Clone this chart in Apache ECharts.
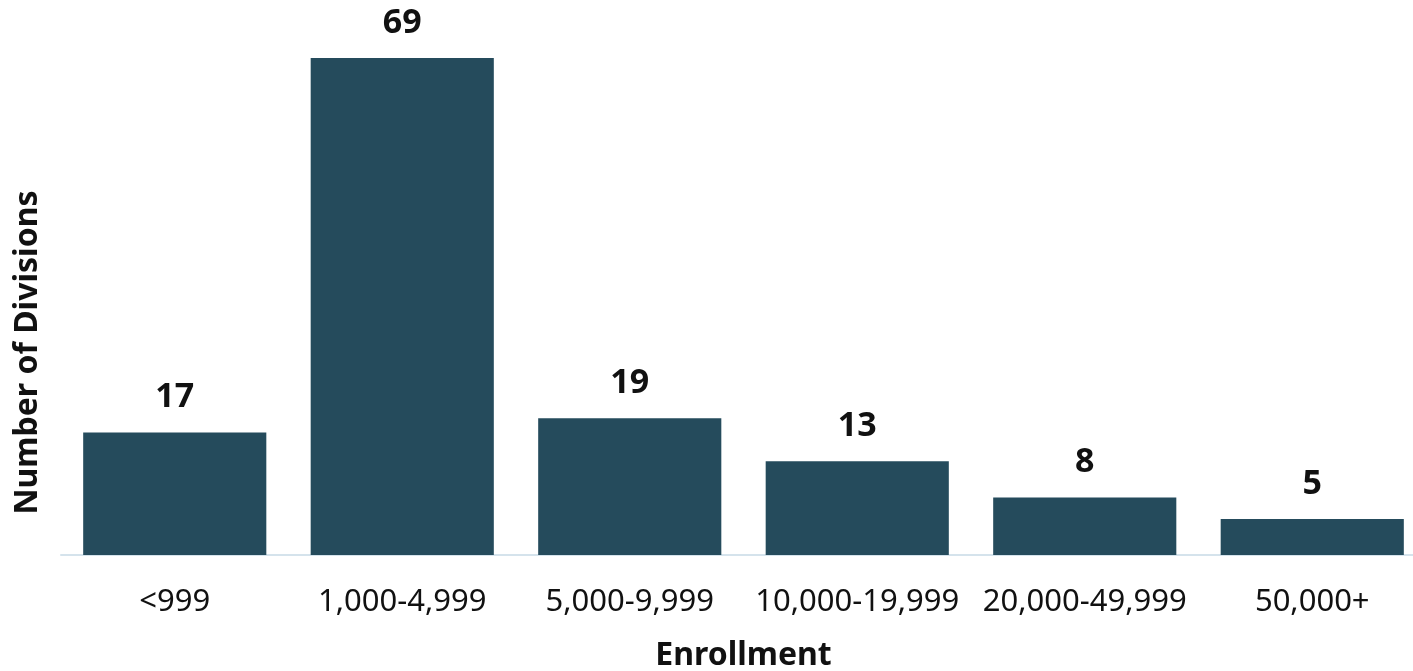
<!DOCTYPE html>
<html>
<head>
<meta charset="utf-8">
<script src="https://cdn.jsdelivr.net/npm/echarts@6/dist/echarts.min.js"></script>
<style>html,body{margin:0;padding:0;background:#fff;}#c{width:1413px;height:671px;}</style>
</head>
<body>
<div id="c"></div>
<script>
const categories = ['<999', '1,000-4,999', '5,000-9,999', '10,000-19,999', '20,000-49,999', '50,000+'];
const divisions = [17, 69, 19, 13, 8, 5];
const xName = 'Enrollment';
const yName = 'Number of Divisions';

const FONT = '"Noto Sans", "Open Sans", sans-serif';
const chart = echarts.init(document.getElementById('c'), null, {renderer: 'canvas'});
chart.setOption({
  animation: false,
  backgroundColor: '#fff',
  textStyle: {fontFamily: FONT},
  grid: {left: 61, right: -13, top: 58, bottom: 116, containLabel: false, outerBoundsMode: 'none'},
  xAxis: {
    type: 'category',
    data: categories,
    name: xName,
    nameLocation: 'middle',
    nameGap: 85,
    nameTextStyle: {fontFamily: FONT, fontSize: 32, fontWeight: 'bold', color: '#111'},
    axisLine: {show: true, lineStyle: {color: '#D5E3EC', width: 2}},
    axisTick: {show: false},
    axisLabel: {fontFamily: FONT, fontSize: 31, color: '#111', margin: 32, interval: 0}
  },
  yAxis: {
    type: 'value',
    min: 0,
    max: 69,
    name: yName,
    nameLocation: 'middle',
    nameGap: 17,
    nameTextStyle: {fontFamily: FONT, fontSize: 32, fontWeight: 'bold', color: '#111', padding: [0, 92, 0, 0]},
    axisLine: {show: false},
    axisTick: {show: false},
    axisLabel: {show: false},
    splitLine: {show: false}
  },
  series: [{
    type: 'bar',
    data: divisions,
    barCategoryGap: '19.5%',
    itemStyle: {color: '#254B5C'},
    label: {
      show: true,
      position: 'top',
      distance: 18,
      fontFamily: FONT,
      fontSize: 34,
      fontWeight: 'bold',
      color: '#111'
    }
  }]
});
</script>
</body>
</html>
